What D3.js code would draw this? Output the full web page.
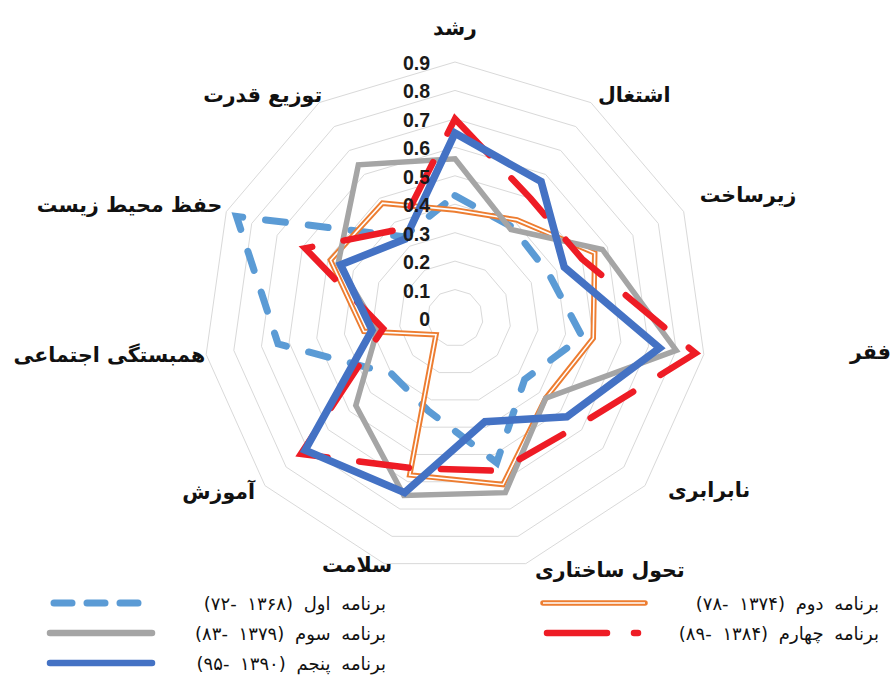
<!DOCTYPE html>
<html>
<head>
<meta charset="utf-8">
<script src="https://cdn.jsdelivr.net/npm/d3@7"></script>
<style>
  body { margin: 0; background: #fff; }
  svg { display: block; }
</style>
</head>
<body>
<svg id="chart" width="893" height="680"></svg>
<script>
// محورهای نمودار، به ترتیب ساعتگرد از بالا
const axes = ["رشد", "اشتغال", "زیرساخت", "فقر", "نابرابری", "تحول ساختاری",
  "سلامت", "آموزش", "همبستگی اجتماعی", "حفظ محیط زیست", "توزیع قدرت"];
const ticks = [0, 0.1, 0.2, 0.3, 0.4, 0.5, 0.6, 0.7, 0.8, 0.9];

const plan1 = [0.43, 0.38, 0.37, 0.46, 0.33, 0.53, 0.34, 0.30, 0.64, 0.86, 0.34];
const plan2 = [0.38, 0.41, 0.55, 0.50, 0.43, 0.61, 0.575, 0.09, 0.33, 0.49, 0.48];
const plan3 = [0.56, 0.37, 0.58, 0.80, 0.43, 0.64, 0.65, 0.47, 0.28, 0.46, 0.64];
const plan4 = [0.70, 0.50, 0.50, 0.87, 0.58, 0.56, 0.55, 0.73, 0.26, 0.59, 0.37];
const plan5 = [0.65, 0.57, 0.43, 0.74, 0.53, 0.38, 0.64, 0.71, 0.30, 0.45, 0.33];

const legendNames = [
  "برنامه اول (۱۳۶۸ -۷۲)",
  "برنامه دوم (۱۳۷۴ -۷۸)",
  "برنامه سوم (۱۳۷۹ -۸۳)",
  "برنامه چهارم (۱۳۸۴ -۸۹)",
  "برنامه پنجم (۱۳۹۰ -۹۵)"
];

const cx = 455, cy = 318;
const SX = 0.982; // picture is a little narrower than tall

const svg = d3.select("#chart");

var r = d3.scaleLinear().domain([0, 0.9]).range([0, 256]);
var angle = d3.scaleLinear().domain([0, axes.length]).range([0, 2 * Math.PI]);

function pt(i, v) {
  var a = angle(i);
  return [cx + r(v) * Math.sin(a) * SX, cy - r(v) * Math.cos(a)];
}

var closedLine = d3.line().curve(d3.curveLinearClosed);

// grid rings
var grid = svg.append("g").attr("class", "grid");
grid.selectAll("path")
  .data(ticks.filter((t) => t > 0))
  .enter()
  .append("path")
  .attr("d", (t) => closedLine(axes.map((a, i) => pt(i, t))))
  .attr("fill", "none")
  .attr("stroke", "#d9d9d9")
  .attr("stroke-width", 1);

// series (first drawn at the bottom)
var series = [
  { values: plan1, color: "#5B9BD5", width: 7, dash: "20,23", cap: "round" },
  { values: plan2, color: "#ED7D31", width: 5.5, double: true },
  { values: plan3, color: "#A5A5A5", width: 5.5 },
  { values: plan4, color: "#EE1C25", width: 6.5, dash: "50,32", cap: "round" },
  { values: plan5, color: "#4472C4", width: 7.5 }
];

var lines = svg.append("g").attr("class", "series");
series.forEach(function (s) {
  var d = closedLine(s.values.map((v, i) => pt(i, v)));
  lines.append("path")
    .attr("d", d)
    .attr("fill", "none")
    .attr("stroke", s.color)
    .attr("stroke-width", s.width)
    .attr("stroke-linejoin", "miter")
    .attr("stroke-linecap", s.cap || "butt")
    .attr("stroke-dasharray", s.dash || null);
  if (s.double) {
    lines.append("path")
      .attr("d", d)
      .attr("fill", "none")
      .attr("stroke", "#fff")
      .attr("stroke-width", 1.6);
  }
});

// tick labels
svg.append("g").selectAll("text")
  .data(ticks)
  .enter()
  .append("text")
  .attr("x", cx - 25)
  .attr("y", (t) => cy - r(t) + 1)
  .attr("text-anchor", "end")
  .attr("dominant-baseline", "central")
  .style("font-family", "'Liberation Sans', Arial, sans-serif")
  .style("font-weight", "bold")
  .style("font-size", "19.5px")
  .attr("fill", "#1a1a1a")
  .text((t) => String(t));

// axis labels, nudged off the outer ring
// فقر sits far out, against the right edge
var labelOffset = [[0, -34], [7, -8], [16, -17], [187, -2], [23, 4], [84, 6],
  [-27, 1], [-10, 6], [-1, 1], [-4, -7], [3, -8]];

svg.append("g").selectAll("text")
  .data(axes)
  .enter()
  .append("text")
  .attr("x", (d, i) => pt(i, 0.9)[0] + labelOffset[i][0])
  .attr("y", (d, i) => pt(i, 0.9)[1] + labelOffset[i][1])
  .attr("text-anchor", function (d, i) {
    var s = Math.sin(angle(i));
    if (i === 0 || i === 5 || i === 6) return "middle";
    if (i === 3) return "end";
    return s > 0 ? "start" : "end";
  })
  .attr("dominant-baseline", "central")
  .style("font-family", "'DejaVu Sans', sans-serif")
  .style("font-weight", "bold")
  .style("font-size", "20.5px")
  .attr("fill", "#111")
  .text((d) => d);

// legend: two columns, Excel-like placement
var legendPos = [[50, 386, 603], [543, 879, 603], [50, 386, 633], [543, 879, 633], [50, 386, 663]];
var legend = svg.append("g").attr("class", "legend");

series.forEach(function (s, i) {
  var p = legendPos[i];
  var x1 = p[0], x2 = p[0] + 98, y = p[2];
  if (s.dash && i === 0) {
    legend.append("line")
      .attr("x1", x1 + 4).attr("x2", x2 - 4).attr("y1", y).attr("y2", y)
      .attr("stroke", s.color).attr("stroke-width", 7)
      .attr("stroke-linecap", "round").attr("stroke-dasharray", "18,15");
  } else if (s.dash) {
    legend.append("line")
      .attr("x1", x1 + 4).attr("x2", x2 - 3).attr("y1", y).attr("y2", y)
      .attr("stroke", s.color).attr("stroke-width", 6.5)
      .attr("stroke-linecap", "round").attr("stroke-dasharray", "60,27");
  } else {
    legend.append("line")
      .attr("x1", x1).attr("x2", x2 + 4).attr("y1", y).attr("y2", y)
      .attr("stroke", s.color).attr("stroke-width", s.double ? 5.5 : 6.5)
      .attr("stroke-linecap", "round");
    if (s.double) {
      legend.append("line")
        .attr("x1", x1).attr("x2", x2 + 4).attr("y1", y).attr("y2", y)
        .attr("stroke", "#fff").attr("stroke-width", 1.6);
    }
  }
  legend.append("text")
    .attr("x", p[1])
    .attr("y", y)
    .attr("direction", "rtl")
    .attr("text-anchor", "start")
    .attr("dominant-baseline", "central")
    .style("font-family", "'DejaVu Sans', sans-serif")
    .style("font-size", "18px")
    .style("word-spacing", "5px")
    .attr("fill", "#111")
    .text(legendNames[i]);
});
</script>
</body>
</html>
